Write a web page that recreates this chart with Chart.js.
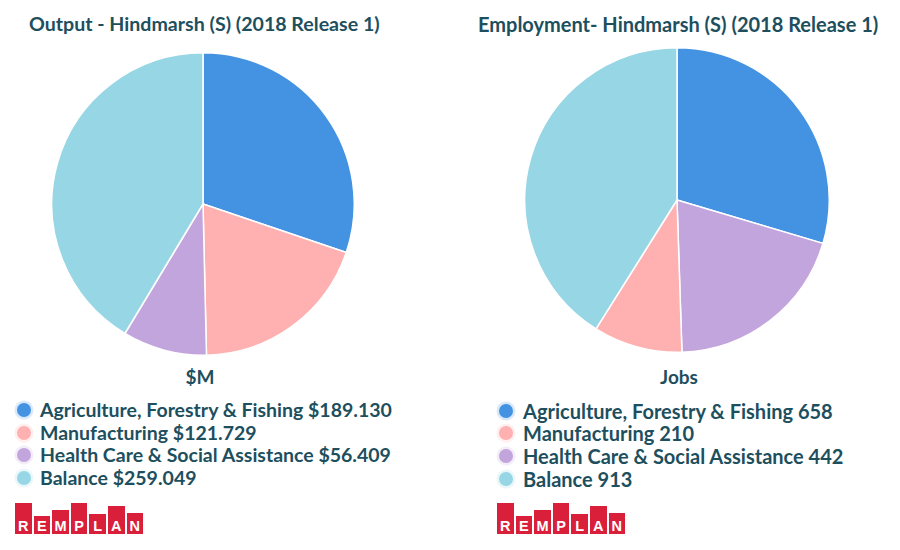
<!DOCTYPE html>
<html>
<head>
<meta charset="utf-8">
<title>Hindmarsh (S) Output and Employment</title>
<script src="https://cdn.jsdelivr.net/npm/chart.js@4"></script>
<style>
  html, body { margin: 0; padding: 0; background: #fff; }
  body { width: 900px; height: 550px; position: relative; overflow: hidden;
    font-family: Lato, "Open Sans", sans-serif; font-weight: 700; color: #1d4f5e; }
  .title, .unit, .legend-row, .logo, .pie-wrap { position: absolute; }
  .title { font-size: 19.6px; line-height: 24px; white-space: nowrap; }
  .unit { font-size: 19px; line-height: 22px; text-align: center; }
  .pie-wrap canvas { display: block; }
  .legend-row { font-size: 19.5px; line-height: 22px; white-space: nowrap; }
  .legend-dot { position: absolute; top: 4px; width: 14px; height: 14px; border-radius: 50%; }
  .logo { width: 130px; height: 31px; }
  .logo span { position: absolute; bottom: 0; width: 16.5px; background: #d91f3a; color: #fff;
    display: flex; align-items: flex-end; justify-content: center;
    font-size: 14.5px; line-height: 16px; font-family: "Liberation Sans", sans-serif; font-weight: 700; }
</style>
</head>
<body>
<script>
const outputLabels = ["Agriculture, Forestry & Fishing", "Manufacturing", "Health Care & Social Assistance", "Balance"];
const outputValues = [189.130, 121.729, 56.409, 259.049];
const outputColors = ["#4492e2", "#ffb0b0", "#c3a5dd", "#97d6e5"];

// jobs legend keeps the same order as output but the pie draws health before manufacturing
const jobsLabels = ["Agriculture, Forestry & Fishing", "Manufacturing", "Health Care & Social Assistance", "Balance"];
const jobsValues = [658, 210, 442, 913];
const jobsPieOrder = [0, 2, 1, 3];

const logoLetters = ["R", "E", "M", "P", "L", "A", "N"];
const logoHeights = [31, 18, 24, 31, 20, 28, 21];

function addText(cls, text, left, top, width) {
  const el = document.createElement("div");
  el.className = cls;
  el.textContent = text;
  el.style.left = left + "px";
  el.style.top = top + "px";
  if (width) el.style.width = width + "px";
  document.body.appendChild(el);
  return el;
}

function addPie(cx, cy, size, labels, values, colors) {
  const wrap = document.createElement("div");
  wrap.className = "pie-wrap";
  wrap.style.cssText = `left:${cx - size / 2}px;top:${cy - size / 2}px;width:${size}px;height:${size}px`;
  const canvas = document.createElement("canvas");
  wrap.appendChild(canvas);
  document.body.appendChild(wrap);
  new Chart(canvas.getContext("2d"), {
    type: "pie",
    data: { labels: labels, datasets: [{ data: values, backgroundColor: colors, borderColor: "#fff", borderWidth: 1.5 }] },
    options: {
      responsive: true, maintainAspectRatio: false, animation: false,
      layout: { padding: 0 },
      plugins: { legend: { display: false }, tooltip: { enabled: false } }
    }
  });
}

function addLegend(dotX, textX, rowY, fontSize, labels, values, colors, fmt) {
  labels.forEach((label, i) => {
    const row = addText("legend-row", `${label} ${fmt(values[i])}`, textX, rowY[i] - 11);
    row.style.fontSize = fontSize + "px";
    const dot = document.createElement("span");
    dot.className = "legend-dot";
    dot.style.left = (dotX - textX - 7) + "px";
    dot.style.background = colors[i];
    dot.style.boxShadow = "0 0 0 2.5px " + colors[i] + "33";
    row.appendChild(dot);
  });
}

function addLogo(left, top) {
  const logo = document.createElement("div");
  logo.className = "logo";
  logo.style.left = left + "px";
  logo.style.top = top + "px";
  logoLetters.forEach((ch, i) => {
    const s = document.createElement("span");
    s.textContent = ch;
    s.style.left = (i * 18.6) + "px";
    s.style.height = logoHeights[i] + "px";
    logo.appendChild(s);
  });
  document.body.appendChild(logo);
}

addText("title", "Output - Hindmarsh (S) (2018 Release 1)", 29, 12);
addText("title", "Employment- Hindmarsh (S) (2018 Release 1)", 478, 12).style.fontSize = "20px";

addPie(203, 204, 304, outputLabels, outputValues, outputColors);
addPie(677, 200, 306, jobsPieOrder.map(i => jobsLabels[i]), jobsPieOrder.map(i => jobsValues[i]), jobsPieOrder.map(i => outputColors[i]));

addText("unit", "$M", 150, 366, 100);
addText("unit", "Jobs", 629, 366, 100);

addLegend(24, 40, [410, 433, 455, 478], 19.5, outputLabels, outputValues, outputColors, v => "$" + v.toFixed(3));
addLegend(506, 523, [411, 433, 456, 479], 20, jobsLabels, jobsValues, outputColors, v => String(v));

addLogo(15, 503);
addLogo(497, 503);
</script>
</body>
</html>
